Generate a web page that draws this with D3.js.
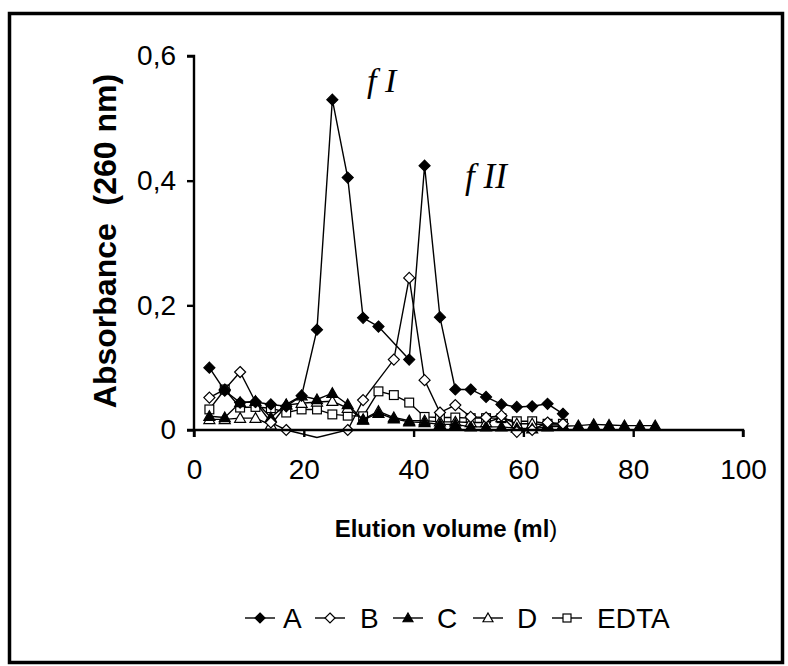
<!DOCTYPE html>
<html>
<head>
<meta charset="utf-8">
<script src="https://cdn.jsdelivr.net/npm/d3@7"></script>
<style>
  body { margin: 0; background: #fff; }
  svg text { font-family: "Liberation Sans", Arial, sans-serif; fill: #000; }
</style>
</head>
<body>
<div id="graph"></div>
<script>
const w = 788;
const h = 666;

// fraction volumes (ml)
const volumes = [2.8, 5.6, 8.4, 11.2, 14, 16.8, 19.6, 22.4, 25.2, 28,
                 30.8, 33.6, 36.4, 39.2, 42, 44.8, 47.6, 50.4, 53.2, 56,
                 58.8, 61.6, 64.4, 67.2, 70, 72.8, 75.6, 78.4, 81.2, 84];

// absorbance at 260 nm, one value per fraction (null = no point)
const seriesA = [0.100, 0.063, 0.044, 0.045, 0.041, 0.038, 0.055, 0.161, 0.530, 0.405,
                 0.180, 0.166, null, 0.113, 0.424, 0.181, 0.065, 0.065, 0.053, 0.041,
                 0.037, 0.038, 0.042, 0.026, null, null, null, null, null, null];
const seriesB = [0.052, 0.065, 0.093, 0.045, 0.012, 0.000, null, -0.012, null, 0.000,
                 0.048, null, 0.113, 0.244, 0.080, 0.028, 0.040, 0.021, 0.020, 0.023,
                 -0.003, 0.000, 0.012, 0.010, null, null, null, null, null, null];
const seriesC = [0.022, 0.020, 0.044, 0.046, 0.020, 0.041, 0.055, 0.049, 0.059, 0.041,
                 0.016, 0.027, 0.018, 0.013, 0.012, 0.009, 0.009, 0.005, 0.005, 0.005,
                 0.003, 0.002, 0.005, 0.006, 0.007, 0.009, 0.008, 0.007, 0.007, 0.007];
const seriesD = [0.017, 0.017, 0.019, 0.019, 0.008, 0.040, 0.043, 0.045, 0.046, 0.035,
                 0.017, 0.030, 0.020, 0.015, 0.015, 0.013, 0.013, 0.012, 0.012, 0.020,
                 0.010, 0.010, 0.008, 0.008, null, null, null, null, null, null];
const seriesEDTA = [0.033, 0.065, 0.036, 0.037, 0.035, 0.028, 0.033, 0.033, 0.025, 0.023,
                    0.022, 0.062, 0.056, 0.044, 0.021, 0.020, 0.020, 0.019, 0.019, 0.019,
                    0.014, 0.014, 0.010, 0.010, null, null, null, null, null, null];

const seriesNames = ['A', 'B', 'C', 'D', 'EDTA'];
const markerKinds = ['diamondFilled', 'diamondOpen', 'triFilled', 'triOpen', 'squareOpen'];

const xTicks = [0, 20, 40, 60, 80, 100];
const yTicks = [0, 0.2, 0.4, 0.6];

const plot = {left: 194, right: 743, top: 56, bottom: 430};

const xScale = d3.scaleLinear().domain([0, 100]).range([plot.left, plot.right]);
const yScale = d3.scaleLinear().domain([0, 0.6]).range([plot.bottom, plot.top]);

const svg = d3.select('#graph')
              .append('svg')
              .attr('width', w)
              .attr('height', h);

// outer frame
svg.append('rect')
   .attr('x', 9.5).attr('y', 13.5)
   .attr('width', 773).attr('height', 649)
   .attr('fill', 'none')
   .attr('stroke', '#000')
   .attr('stroke-width', 3.5);

function marker(sel, kind, size) {
  const s = size;
  if (kind.startsWith('diamond')) {
    sel.append('path').attr('d', `M0,${-s}L${s},0L0,${s}L${-s},0Z`);
  } else if (kind.startsWith('tri')) {
    sel.append('path').attr('d', `M0,${-s}L${s},${s * 0.75}L${-s},${s * 0.75}Z`);
  } else {
    sel.append('rect').attr('x', -s * 0.8).attr('y', -s * 0.8)
       .attr('width', s * 1.6).attr('height', s * 1.6);
  }
  sel.selectAll('path, rect')
     .attr('fill', kind.includes('Filled') ? '#000' : '#fff')
     .attr('stroke', '#000')
     .attr('stroke-width', 1.2);
}

const allSeries = [seriesA, seriesB, seriesC, seriesD, seriesEDTA];
// draw in reverse so A sits on top
for (let i = allSeries.length - 1; i >= 0; i--) {
  const pts = volumes.map((v, j) => [v, allSeries[i][j]]).filter(d => d[1] !== null);
  svg.append('path')
     .datum(pts)
     .attr('fill', 'none')
     .attr('stroke', '#000')
     .attr('stroke-width', 1.4)
     .attr('d', d3.line()
                  .x(d => xScale(d[0]))
                  .y(d => yScale(d[1])));
  svg.selectAll('.m' + i)
     .data(pts.filter(d => d[1] >= -0.005))
     .enter()
     .append('g')
     .attr('class', 'm' + i)
     .attr('transform', d => `translate(${xScale(d[0])},${yScale(d[1])})`)
     .each(function () { marker(d3.select(this), markerKinds[i], 5.5); });
}

// axes
const xAxis = svg.append('g')
   .attr('transform', 'translate(0,' + plot.bottom + ')')
   .call(d3.axisBottom(xScale).tickValues(xTicks).tickSize(7).tickPadding(22).tickFormat(d3.format('d')));
const yAxis = svg.append('g')
   .attr('transform', 'translate(' + plot.left + ',0)')
   .call(d3.axisLeft(yScale).tickValues(yTicks).tickSize(7).tickPadding(11)
           .tickFormat(d => d === 0 ? '0' : d3.format('.1f')(d).replace('.', ',')));
[xAxis, yAxis].forEach(a => {
  a.select('.domain').attr('stroke-width', 2.4);
  a.selectAll('.tick line').attr('stroke-width', 2.4);
  a.selectAll('text').style('font-size', '28px').style('font-family', '"Liberation Sans", Arial, sans-serif');
});
yAxis.select('.domain').attr('d', `M-7,${plot.bottom}H0V${plot.top}H-7`);
xAxis.select('.domain').attr('d', `M${plot.left},7V0H${plot.right}V7`);

// axis titles
const xTitle = svg.append('text')
   .attr('x', 446)
   .attr('y', 537)
   .attr('text-anchor', 'middle')
   .style('font-size', '24px');
xTitle.append('tspan').style('font-weight', 'bold').text('Elution volume (ml');
xTitle.append('tspan').text(')');

svg.append('text')
   .attr('text-anchor', 'middle')
   .attr('transform', 'translate(116,241)rotate(-90)')
   .attr('xml:space', 'preserve')
   .style('white-space', 'pre')
   .style('font-size', '32px')
   .style('font-weight', 'bold')
   .text('Absorbance  (260 nm)');

// peak labels
svg.append('text')
   .attr('x', 367).attr('y', 92)
   .attr('xml:space', 'preserve')
   .style('white-space', 'pre')
   .style('font-family', '"Liberation Serif", "Times New Roman", serif')
   .style('font-style', 'italic')
   .style('font-size', '34px')
   .text('f I');
svg.append('text')
   .attr('x', 465).attr('y', 188)
   .attr('xml:space', 'preserve')
   .style('white-space', 'pre')
   .style('font-family', '"Liberation Serif", "Times New Roman", serif')
   .style('font-style', 'italic')
   .style('font-size', '35px')
   .text('f II');

// legend
const legendLineX = [245, 315, 393, 473, 552];
const legendTextX = [283, 360, 437, 517, 597];
const legendY = 618;
seriesNames.forEach((name, i) => {
  const g = svg.append('g').attr('transform', `translate(${legendLineX[i]},${legendY})`);
  g.append('line').attr('x1', 0).attr('x2', 30).attr('stroke', '#000').attr('stroke-width', 1.4);
  const m = g.append('g').attr('transform', 'translate(15,0)');
  marker(m, markerKinds[i], 5);
  svg.append('text')
   .attr('x', legendTextX[i])
   .attr('y', legendY + 10)
   .style('font-size', '28px')
   .text(name);
});
</script>
</body>
</html>
